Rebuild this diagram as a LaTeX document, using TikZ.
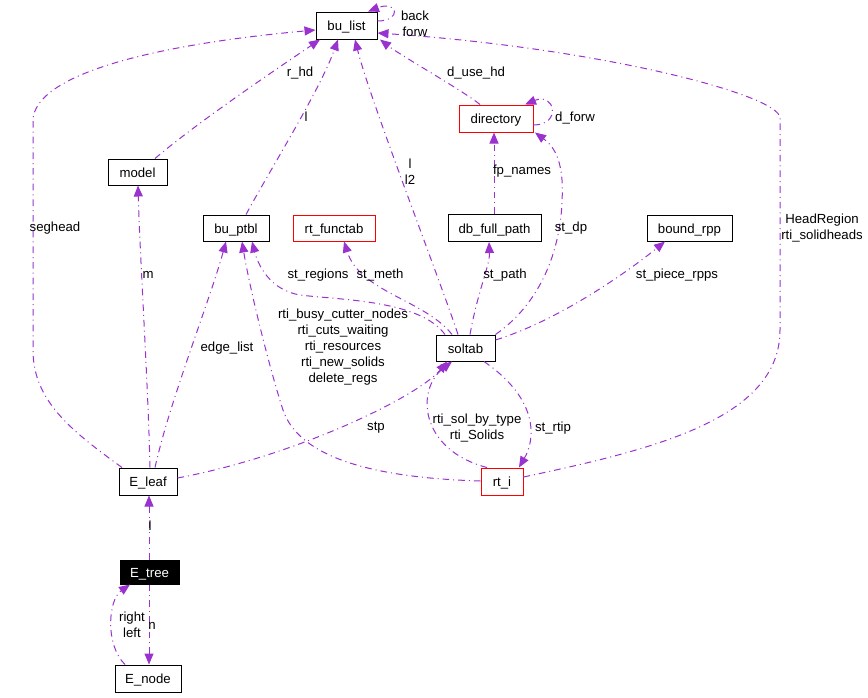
\documentclass[tikz,border=0pt]{standalone}
\usepackage{fontspec}
\setmainfont{Liberation Sans}
\usetikzlibrary{arrows.meta}
\definecolor{edgec}{HTML}{9A32CD}
\begin{document}
\begin{tikzpicture}[x=0.75pt,y=-0.75pt,
  every node/.style={font=\fontsize{9.9}{12}\selectfont},
  box/.style={draw=black, line width=0.75pt, inner sep=0pt, minimum height=20.25pt, text height=7.9pt, text depth=0pt},
  redbox/.style={box, draw=red},
  lbl/.style={inner sep=0pt, align=center},
  dep/.style={draw=edgec, line width=0.75pt, dash pattern=on 5pt off 3pt on 0.75pt off 3pt,
    -{Triangle[length=8.25pt,width=6.75pt,fill=edgec]}}]
\useasboundingbox (0,0) rectangle (868,697);
% nodes
\node[box, minimum width=45.75pt] (bulist) at (346.5,25.5) {bu\_list};
\node[redbox, minimum width=55.5pt] (directory) at (496,118.5) {directory};
\node[box, minimum width=44.25pt, minimum height=19.5pt] (model) at (137.5,172) {model};
\node[box, minimum width=49.5pt, minimum height=19.5pt] (buptbl) at (236,228) {bu\_ptbl};
\node[redbox, minimum width=61.5pt, minimum height=19.5pt] (rtfunctab) at (334,228) {rt\_functab};
\node[box, minimum width=69.75pt] (dbfullpath) at (494.5,228) {db\_full\_path};
\node[box, minimum width=63.75pt, minimum height=19.5pt] (boundrpp) at (689.5,228) {bound\_rpp};
\node[box, minimum width=44.25pt, minimum height=19.5pt] (soltab) at (465.5,348) {soltab};
\node[redbox, minimum width=31.5pt] (rti) at (502,481.5) {rt\_i};
\node[box, minimum width=43.5pt] (eleaf) at (148,481.5) {E\_leaf};
\node[box, fill=black, text=white, minimum width=44.25pt, minimum height=18pt] (etree) at (149.5,572) {E\_tree};
\node[box, minimum width=49.5pt] (enode) at (148,678.5) {E\_node};
% edges
\draw[dep] (bulist.east |- 0,21) .. controls (402,21) and (398,0) .. (368,0 |- bulist.north);
\draw[dep] (directory.east |- 0,125) .. controls (562,125) and (555,92) .. (525,0 |- directory.north);
\draw[dep] (480,0 |- directory.north) .. controls (465,92) and (400,55) .. (380,0 |- bulist.south);
\draw[dep] (494,0 |- dbfullpath.north) -- (494,0 |- directory.south);
\draw[dep] (soltab.north east) .. controls (545,300) and (565,240) .. (562,180) .. controls (560,155) and (552,145) .. (535,0 |- directory.south);
\draw[dep] (458,0 |- soltab.north) .. controls (440,280) and (370,100) .. (355,0 |- bulist.south);
\draw[dep] (246,0 |- buptbl.north) .. controls (270,170) and (320,90) .. (338,0 |- bulist.south);
\draw[dep] (155,0 |- model.north) .. controls (200,120) and (290,60) .. (320,0 |- bulist.south);
\draw[dep] (122,0 |- eleaf.north) .. controls (70,430) and (33,400) .. (33,350) -- (33,120) .. controls (35,75) and (150,45) .. (bulist.west |- 0,30);
\draw[dep] (rti.east |- 0,477) .. controls (650,450) and (780,420) .. (780,330) -- (780,118) .. controls (780,95) and (600,48) .. (bulist.east |- 0,33);
\draw[dep] (150,0 |- eleaf.north) .. controls (148,380) and (140,260) .. (138,0 |- model.south);
\draw[dep] (155,0 |- eleaf.north) .. controls (170,400) and (210,300) .. (226,0 |- buptbl.south);
\draw[dep] (445,0 |- soltab.north) .. controls (420,300) and (340,300) .. (300,295) .. controls (270,290) and (258,265) .. (252,0 |- buptbl.south);
\draw[dep] (452,0 |- soltab.north) .. controls (425,300) and (360,292) .. (344,0 |- rtfunctab.south);
\draw[dep] (470,0 |- soltab.north) .. controls (478,290) and (490,265) .. (489,0 |- dbfullpath.south);
\draw[dep] (soltab.east |- 0,340) .. controls (560,320) and (630,270) .. (665,0 |- boundrpp.south);
\draw[dep] (rti.west |- 0,481) .. controls (380,478) and (300,460) .. (283,410) .. controls (270,370) and (250,290) .. (242,0 |- buptbl.south);
\draw[dep] (eleaf.east |- 0,478) .. controls (300,455) and (420,395) .. (447,0 |- soltab.south);
\draw[dep] (487,0 |- rti.north) .. controls (420,450) and (415,390) .. (452,0 |- soltab.south);
\draw[dep] (484,0 |- soltab.south) .. controls (540,400) and (535,440) .. (519,0 |- rti.north);
\draw[dep] (149,0 |- etree.north) -- (149,0 |- eleaf.south);
\draw[dep] (149,0 |- etree.south) -- (149,0 |- enode.north);
\draw[dep] (125,0 |- enode.north) .. controls (105,645) and (108,600) .. (130,0 |- etree.south);
% labels
\node[lbl] (lbback) at (415,24) {back\\forw};
\node[lbl] (lbduse) at (476,73) {d\_use\_hd};
\node[lbl] (lbrhd) at (300,73) {r\_hd};
\node[lbl] (lbl1) at (306,117) {l};
\node[lbl] (lbdforw) at (575,118) {d\_forw};
\node[lbl] (lbl2) at (410,171.5) {l\\l2};
\node[lbl] (lbfp) at (522,171) {fp\_names};
\node[lbl] (lbseg) at (55,228) {seghead};
\node[lbl] (lbstdp) at (571,228) {st\_dp};
\node[lbl] (lbhead) at (822,228) {HeadRegion\\rti\_solidheads};
\node[lbl] (lbm) at (148,275) {m};
\node[lbl] (lbreg) at (318,275) {st\_regions};
\node[lbl] (lbmeth) at (380,275) {st\_meth};
\node[lbl] (lbpath) at (505,275) {st\_path};
\node[lbl] (lbpiece) at (677,275) {st\_piece\_rpps};
\node[lbl] (lbbusy) at (343,347) {rti\_busy\_cutter\_nodes\\rti\_cuts\_waiting\\rti\_resources\\rti\_new\_solids\\delete\_regs};
\node[lbl] (lbedge) at (227,348) {edge\_list};
\node[lbl] (lbstp) at (376,428) {stp};
\node[lbl] (lbsol) at (477,428) {rti\_sol\_by\_type\\rti\_Solids};
\node[lbl] (lbrtip) at (553,428) {st\_rtip};
\node[lbl] (lbl3) at (150,526) {l};
\node[lbl] (lbn) at (152,626) {n};
\node[lbl] (lbrl) at (132,625) {right\\left};
\end{tikzpicture}
\end{document}
